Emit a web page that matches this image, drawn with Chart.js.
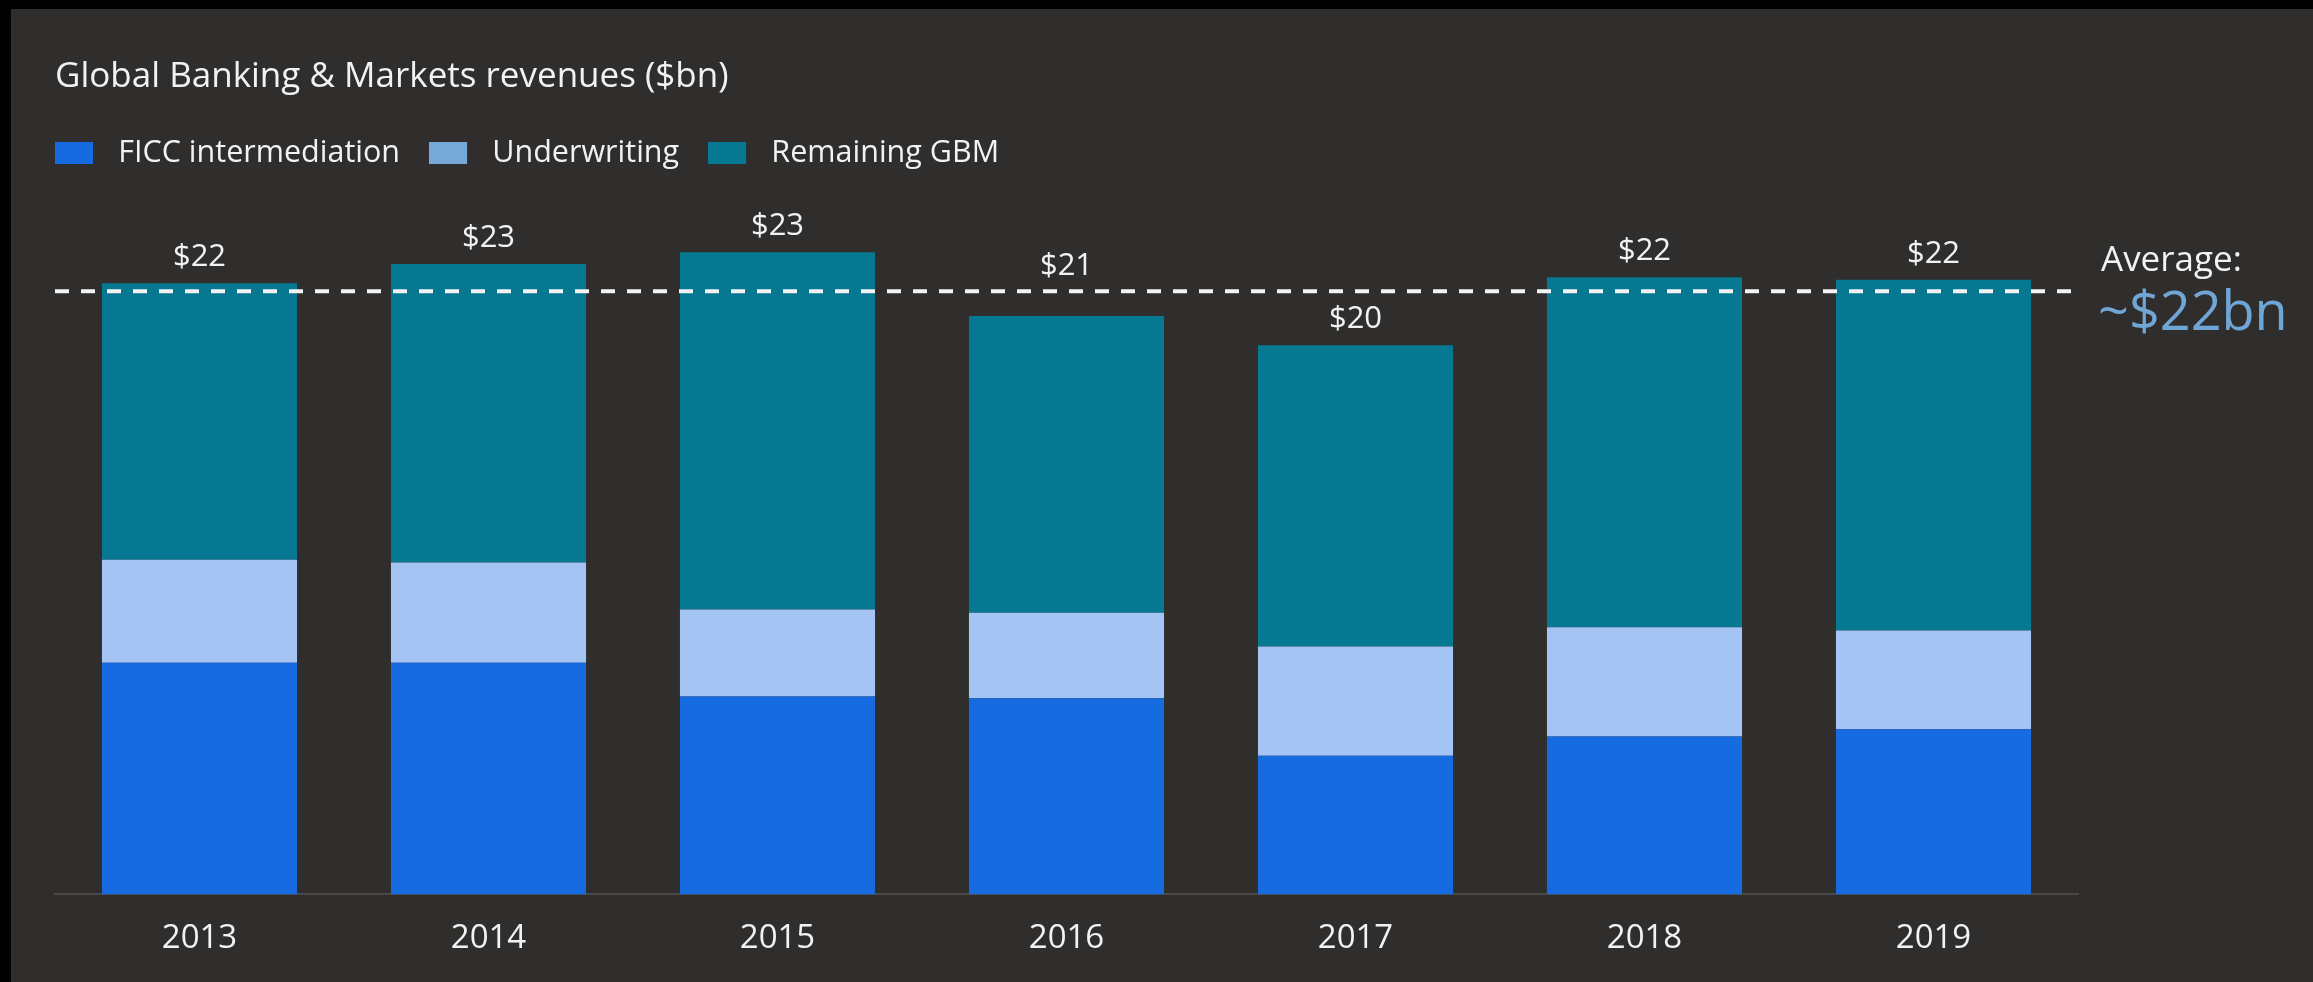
<!DOCTYPE html>
<html>
<head>
<meta charset="utf-8">
<script src="https://cdn.jsdelivr.net/npm/chart.js@4.4.1/dist/chart.umd.min.js"></script>
<style>
  html, body { margin: 0; padding: 0; background: #000; overflow: hidden; }
  #wrap { position: absolute; left: 11px; top: 9px; width: 2302px; height: 973px; background: #302e2c; }
</style>
</head>
<body>
<div id="wrap"><canvas id="mychart"></canvas></div>
<script>
// values in $bn
var years = ['2013', '2014', '2015', '2016', '2017', '2018', '2019'];
var ficc = [8.37, 8.37, 7.15, 7.09, 5.01, 5.71, 5.97];
var underwriting = [3.73, 3.63, 3.15, 3.09, 3.95, 3.95, 3.57];
var remaining = [9.99, 10.79, 12.91, 10.73, 10.89, 12.65, 12.68];
var totalLabels = ['$22', '$23', '$23', '$21', '$20', '$22', '$22'];
var averageValue = 21.8;
var averageLabel = 'Average:';
var averageText = '~$22bn';

var textColor = '#f2f2f2';
var legendColors = ['#176be0', '#76a9d6', '#067891'];

Chart.defaults.font.family = "'Open Sans'";

// legend swatch: 38x22 box with some empty room on its right
function legendSwatch(color) {
  var c = document.createElement('canvas');
  c.width = 48;
  c.height = 22;
  var g = c.getContext('2d');
  g.fillStyle = color;
  g.fillRect(0, 0, 38, 22);
  return c;
}

// $ totals above each stack (kept clear of the average line)
var totalsPlugin = {
  id: 'totals',
  afterDatasetsDraw: function(chart) {
    var ctx = chart.ctx;
    var meta = chart.getDatasetMeta(chart.data.datasets.length - 1);
    var avgY = chart.scales.y.getPixelForValue(averageValue);
    ctx.save();
    ctx.font = "31px 'Open Sans'";
    ctx.fillStyle = textColor;
    ctx.textAlign = 'center';
    ctx.textBaseline = 'alphabetic';
    meta.data.forEach(function(bar, i) {
      var base = bar.y - 17;
      if (bar.y > avgY && base - 24 < avgY + 4) base = avgY - 16;
      ctx.fillText(totalLabels[i], bar.x, base);
    });
    ctx.restore();
  }
};

// dashed average line + note on the right
var averagePlugin = {
  id: 'average',
  afterDatasetsDraw: function(chart) {
    var ctx = chart.ctx;
    var area = chart.chartArea;
    var y = chart.scales.y.getPixelForValue(averageValue);
    ctx.save();
    ctx.strokeStyle = '#f4f4f4';
    ctx.lineWidth = 4;
    ctx.setLineDash([14, 12]);
    ctx.beginPath();
    ctx.moveTo(area.left, y);
    ctx.lineTo(area.right, y);
    ctx.stroke();
    ctx.setLineDash([]);
    ctx.textAlign = 'left';
    ctx.textBaseline = 'alphabetic';
    ctx.fillStyle = textColor;
    ctx.font = "35px 'Open Sans'";
    ctx.fillText(averageLabel, area.right + 23, y - 20);
    ctx.fillStyle = '#6fa6d6';
    ctx.font = "54px 'Open Sans'";
    ctx.fillText(averageText, area.right + 20, y + 39);
    ctx.restore();
  }
};

var mychart = document.getElementById('mychart').getContext('2d');
var chart = new Chart(mychart, {
  type: 'bar',
  data: {
    labels: years,
    datasets: [
      { label: 'FICC intermediation', data: ficc, backgroundColor: '#176be0' },
      { label: 'Underwriting', data: underwriting, backgroundColor: '#a4c4f4' },
      { label: 'Remaining GBM', data: remaining, backgroundColor: '#067891' }
    ]
  },
  options: {
    responsive: true,
    maintainAspectRatio: false,
    animation: false,
    categoryPercentage: 1,
    barPercentage: 0.675,
    layout: { padding: { left: 15, right: 235, top: 0, bottom: 0 } },
    plugins: {
      title: {
        display: true,
        text: 'Global Banking & Markets revenues ($bn)',
        align: 'start',
        fullSize: false,
        color: textColor,
        font: { size: 35, weight: 'normal' },
        padding: { top: 47, bottom: 11 }
      },
      legend: {
        display: true,
        position: 'top',
        align: 'start',
        labels: {
          color: textColor,
          font: { size: 30.5 },
          usePointStyle: true,
          pointStyleWidth: 48,
          boxHeight: 22,
          padding: 29,
          generateLabels: function(chart) {
            var items = Chart.defaults.plugins.legend.labels.generateLabels(chart);
            items.forEach(function(it, i) {
              it.pointStyle = legendSwatch(legendColors[i]);
              it.fillStyle = legendColors[i];
              it.strokeStyle = legendColors[i];
              it.lineWidth = 0;
            });
            return items;
          }
        }
      },
      tooltip: { enabled: false }
    },
    scales: {
      x: {
        stacked: true,
        grid: { display: false, drawTicks: false, tickLength: 0 },
        border: { display: true, color: '#4b4947', width: 2 },
        ticks: { color: textColor, font: { size: 33 }, padding: 24 }
      },
      y: {
        stacked: true,
        min: 0,
        max: 25.88,
        grid: { display: false, drawTicks: false },
        border: { display: false },
        ticks: { display: false },
        afterFit: function(scale) { scale.width = 29; }
      }
    }
  },
  plugins: [totalsPlugin, averagePlugin]
});
</script>
</body>
</html>
